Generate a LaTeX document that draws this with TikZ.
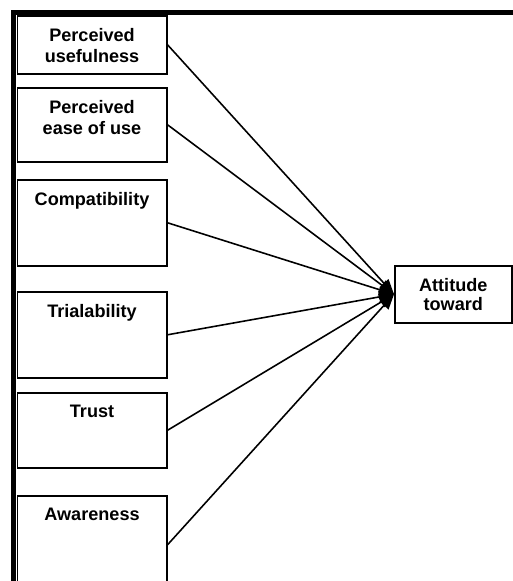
\documentclass[tikz,border=0pt]{standalone}
\usepackage{fontspec}
\setmainfont{Liberation Sans}
\usetikzlibrary{arrows.meta,positioning}

\begin{document}
\begin{tikzpicture}[x=0.02cm, y=-0.02cm,
    every node/.style={font=\fontsize{10.3}{12}\selectfont\bfseries},
    factor/.style={draw, line width=0.9pt, minimum width=2.99cm, anchor=north west, inner sep=0pt},
    caption/.style={anchor=north, inner sep=0pt, align=center},
    link/.style={line width=0.9pt, -{Triangle[length=3mm, width=2.4mm]}}]
    \useasboundingbox (0,0) rectangle (512,581);
    % Frame
    \draw[line width=2.85pt] (13.5,600) -- (13.5,12.7) -- (515,12.7);
    % Factors
    \node[factor, minimum height=1.16cm] (pu) at (16.5,15) {};
    \node[factor, minimum height=1.48cm] (peou) at (16.5,87) {};
    \node[factor, minimum height=1.72cm] (comp) at (16.5,179) {};
    \node[factor, minimum height=1.72cm] (tri) at (16.5,291) {};
    \node[factor, minimum height=1.50cm] (trust) at (16.5,392) {};
    \node[factor, minimum height=1.96cm] (aware) at (16.5,495) {};
    % Factor labels
    \node[caption] (pulbl) at ([yshift=-0.26cm]pu.north) {Perceived\\usefulness};
    \node[caption] (peoulbl) at ([yshift=-0.26cm]peou.north) {Perceived\\ease of use};
    \node[caption] (complbl) at ([yshift=-0.26cm]comp.north) {Compatibility};
    \node[caption] (trilbl) at ([yshift=-0.26cm]tri.north) {Trialability};
    \node[caption] (trustlbl) at ([yshift=-0.26cm]trust.north) {Trust};
    \node[caption] (awarelbl) at ([yshift=-0.26cm]aware.north) {Awareness};
    % Attitude
    \node[factor, minimum width=2.34cm, minimum height=1.14cm, align=center] (att) at (394,265) {Attitude\\[-1.2pt]toward};
    % Links
    \foreach \f in {pu,peou,comp,tri,trust,aware} {
        \draw[link] (\f.east) -- (att.west);
    }
\end{tikzpicture}
\end{document}
